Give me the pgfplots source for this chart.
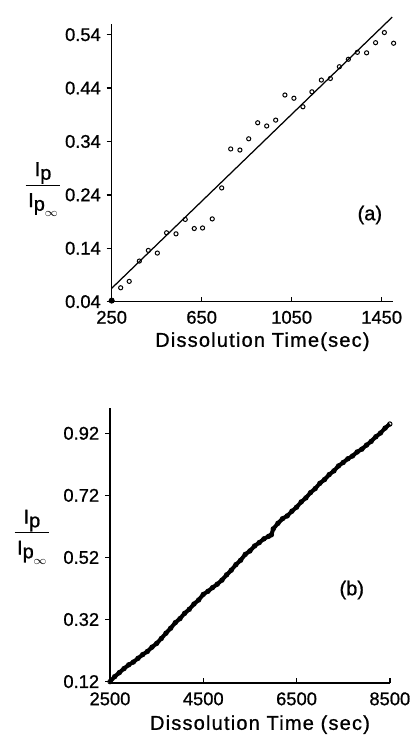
\documentclass[border=0pt]{standalone}
\usepackage{fontspec}
\setmainfont{Liberation Sans}[FakeBold=0.9]
\usepackage{amsmath}
\usepackage{pgfplots}
\pgfplotsset{compat=1.18}
\newcommand{\ticfont}{\fontsize{11}{13}\selectfont}
\newcommand{\labfont}{\fontsize{12}{14}\selectfont\addfontfeature{LetterSpace=6}}
\newcommand{\fracfont}{\fontsize{12}{14}\selectfont}
\newcommand{\IpFrac}{{\fracfont\setlength{\tabcolsep}{1.5pt}\begin{tabular}{c}I\raisebox{-0.35ex}{p}\\[1pt]\hline\rule{0pt}{13pt}I\raisebox{-0.35ex}{p\kern-0.2pt\raisebox{-0.55ex}{\scriptsize$\infty$}}\end{tabular}}}
\pgfplotsset{
  mystyle/.style={
    scale only axis,
    anchor=south west,
    axis lines=left,
    axis line style={-, line width=0.9pt},
    xtick align=inside,
    ytick align=outside,
    major tick length=3pt,
    tick style={line width=0.8pt, black},
    ticklabel style={font=\ticfont},
    /pgf/number format/assume math mode=true,
    xticklabel style={yshift=-2pt},
    clip=false,
  }
}
\begin{document}
\begin{tikzpicture}
\path[use as bounding box] (0,0) rectangle (250.2pt,441.6pt);
% ---------- panel (a)
\begin{axis}[mystyle,
  at={(67pt,260.6pt)}, width=168.75pt, height=166.6pt,
  xmin=250, xmax=1500, ymin=0.04, ymax=0.56,
  xtick={250,650,1050,1450}, xticklabels={250,650,1050,1450},
  ytick={0.04,0.14,0.24,0.34,0.44,0.54},
  yticklabels={0.04,0.14,0.24,0.34,0.44,0.54},
  xlabel={\labfont Dissolution Time(sec)},
  xlabel style={anchor=center, at={(axis description cs:0.536,-0.144)}},
]
\addplot[black, line width=0.75pt] coordinates {(250,0.065) (1497,0.573)};
\addplot[only marks, mark=o, mark size=1.25pt, mark options={line width=0.6pt, black}] coordinates {
(290,0.066) (328,0.078) (373,0.116) (413,0.136) (453,0.131) (494,0.169)
(536,0.167) (577,0.194) (617,0.177) (654,0.178) (697,0.195) (739,0.253)
(779,0.326) (820,0.324) (859,0.345) (899,0.375) (939,0.369) (979,0.380)
(1020,0.427) (1060,0.421) (1100,0.405) (1140,0.433) (1182,0.455) (1222,0.458)
(1262,0.480) (1302,0.494) (1342,0.507) (1383,0.506) (1423,0.525) (1462,0.544)
(1503,0.524)};
\addplot[only marks, mark=*, mark size=1.6pt, black] coordinates {(250,0.042)};
\node at (axis description cs:-0.244,0.409) {\IpFrac};
\node[font=\fontsize{12}{14}\selectfont] at (axis description cs:0.918,0.312) {(a)};
\end{axis}
% ---------- panel (b)
\begin{axis}[mystyle,
  at={(66pt,31.7pt)}, width=167.9pt, height=164.8pt,
  xmin=2500, xmax=8500, ymin=0.115, ymax=1.0,
  xtick={2500,4500,6500,8500}, xticklabels={2500,4500,6500,8500},
  ytick={0.12,0.32,0.52,0.72,0.92},
  yticklabels={0.12,0.32,0.52,0.72,0.92},
  xlabel={\labfont Dissolution Time (sec)},
  xlabel style={anchor=center, at={(axis description cs:0.536,-0.151)}},
]
\pgfplotstableread{
x y
2500 0.120
2600 0.136
2700 0.149
2800 0.162
2900 0.174
3000 0.183
3100 0.195
3200 0.207
3300 0.217
3400 0.231
3500 0.243
3600 0.259
3700 0.276
3800 0.292
3900 0.310
4000 0.323
4100 0.340
4200 0.353
4300 0.370
4400 0.383
4500 0.401
4600 0.411
4700 0.423
4800 0.434
4900 0.447
5000 0.464
5100 0.479
5200 0.497
5300 0.511
5400 0.530
5500 0.541
5600 0.557
5700 0.568
5800 0.580
5900 0.588
5960 0.593
6000 0.612
6100 0.630
6200 0.645
6300 0.654
6400 0.669
6500 0.682
6600 0.699
6700 0.712
6800 0.729
6900 0.742
7000 0.759
7100 0.771
7200 0.787
7300 0.799
7400 0.815
7500 0.826
7600 0.838
7700 0.847
7800 0.860
7900 0.869
8000 0.882
8100 0.894
8200 0.909
8300 0.921
8400 0.937
8500 0.950
}\datab
\addplot[black, line width=2.4pt, line join=round] table[x=x,y=y] {\datab};
\addplot[only marks, mark=o, mark size=1.3pt, mark options={line width=0.6pt, black}] table[x=x,y=y] {\datab};
\node at (axis description cs:-0.279,0.537) {\IpFrac};
\node[font=\fontsize{12}{14}\selectfont] at (axis description cs:0.864,0.339) {(b)};
\end{axis}
\end{tikzpicture}
\end{document}
